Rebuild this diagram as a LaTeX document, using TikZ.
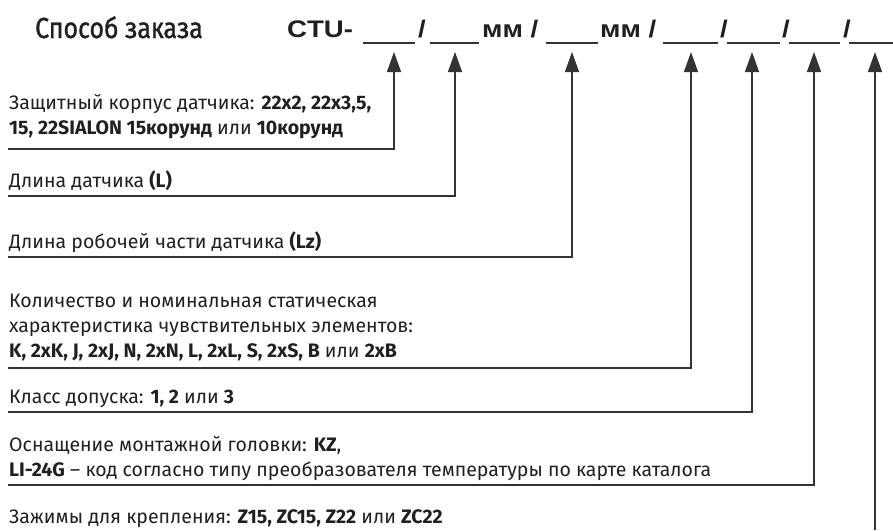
\documentclass[tikz,border=0pt]{standalone}
\usepackage{fontspec}
\setmainfont{Fira Sans}
\newfontfamily\titlefont[FakeStretch=0.86,FakeBold=1.2]{Fira Sans}
\newfontfamily\codefont[FakeStretch=1.15]{Liberation Sans}
\usetikzlibrary{arrows.meta}

\definecolor{ink}{HTML}{231F20}
\definecolor{wire}{HTML}{333333}

\tikzset{
  txt/.style={anchor=base west, inner sep=0pt, text=ink, align=left,
    font=\fontsize{19.5}{25}\selectfont},
  code/.style={anchor=base west, inner sep=0pt, text=ink,
    font=\codefont\bfseries\fontsize{24}{24}\selectfont},
  blank/.style={line width=1.5pt, draw=wire},
  lead/.style={line width=1.3pt, draw=wire, -{Triangle[length=20pt,width=14pt]}},
}

\begin{document}
\begin{tikzpicture}[x=1pt,y=-1pt]

    \useasboundingbox (0,0) rectangle (893,530);

    %%%%%%%%%%%%%%%%%%%%%%%%%%
    % Order code
    %%%%%%%%%%%%%%%%%%%%%%%%%%
    \node [txt, font=\titlefont\fontsize{29}{29}\selectfont] (title) at (35,38) {Способ заказа};

    \node [code] (ctu) at (287,37) {CTU-};
    \node [code] (s1) at (418,37) {/};
    \node [code] (mm1) at (482,37) {мм /};
    \node [code] (mm2) at (600,37) {мм /};
    \node [code] (s2) at (720,37) {/};
    \node [code] (s3) at (782,37) {/};
    \node [code] (s4) at (843,37) {/};

    % blanks to fill in
    \foreach \a/\b in {363/415,430/479,546/598,663/718,727/780,789/840,849/893}
        \draw [blank] (\a,43) -- (\b,43);

    % arrow tips under the blanks
    \foreach \n/\x in {1/394,2/455,3/572,4/691,5/752,6/814,7/875}
        \coordinate (b\n) at (\x,52);

    %%%%%%%%%%%%%%%%%%%%%%%%%%
    % Descriptions (base = last line)
    %%%%%%%%%%%%%%%%%%%%%%%%%%
    \node [txt] (shell) at (9,134) {Защитный корпус датчика: \textbf{22x2, 22x3,5,}\\
        \textbf{15, 22SIALON 15корунд} или \textbf{10корунд}};
    \node [txt] (len) at (9,187) {Длина датчика \textbf{(L)}};
    \node [txt] (wlen) at (9,248) {Длина робочей части датчика \textbf{(Lz)}};
    \node [txt] (elem) at (9,357) {Количество и номинальная статическая\\
        характеристика чувствительных элементов:\\
        \textbf{K, 2xK, J, 2xJ, N, 2xN, L, 2xL, S, 2xS, B} или \textbf{2xB}};
    \node [txt] (cls) at (9,403) {Класс допуска: \textbf{1, 2} или \textbf{3}};
    \node [txt] (head) at (9,476) {Оснащение монтажной головки: \textbf{KZ},\\
        \textbf{LI-24G} – код согласно типу преобразователя температуры по карте каталога};
    \node [txt] (clamp) at (9,523) {Зажимы для крепления: \textbf{Z15, ZC15, Z22} или \textbf{ZC22}};

    %%%%%%%%%%%%%%%%%%%%%%%%%%
    % Leaders
    %%%%%%%%%%%%%%%%%%%%%%%%%%
    \coordinate (l1) at (8,149);
    \coordinate (l2) at (8,196);
    \coordinate (l3) at (8,257);
    \coordinate (l4) at (8,368);
    \coordinate (l5) at (8,412);
    \coordinate (l6) at (8,485);
    \coordinate (l7) at (875,530);

    \draw [lead] (l1) -| (b1);
    \draw [lead] (l2) -| (b2);
    \draw [lead] (l3) -| (b3);
    \draw [lead] (l4) -| (b4);
    \draw [lead] (l5) -| (b5);
    \draw [lead] (l6) -| (b6);
    \draw [lead] (l7) -- (b7);

\end{tikzpicture}
\end{document}
